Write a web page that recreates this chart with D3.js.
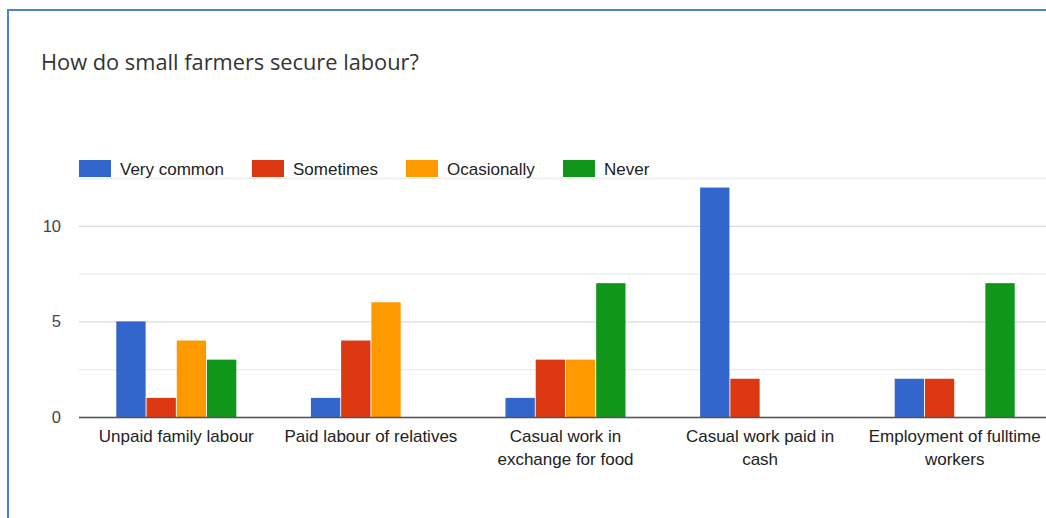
<!DOCTYPE html>
<html>
<head>
<meta charset="utf-8">
<script src="https://cdn.jsdelivr.net/npm/d3@7"></script>
<style>
  body { margin: 0; background: #fff; }
  svg { display: block; }
</style>
</head>
<body>
<div id="chart"></div>
<script>
// values
var categories = ["Unpaid family labour", "Paid labour of relatives", "Casual work in exchange for food", "Casual work paid in cash", "Employment of fulltime workers"];
var series = ["Very common", "Sometimes", "Ocasionally", "Never"];
var veryCommon  = [5, 1, 1, 12, 2];
var sometimes   = [1, 4, 3, 2, 2];
var ocasionally = [4, 6, 3, 0, 0];
var never       = [3, 0, 7, 0, 7];
var yTicks = [0, 5, 10];
var gridTicks = [0, 2.5, 5, 7.5, 10, 12.5];

// wrapped labels as in the picture
var labelLines = [
  ["Unpaid family labour"],
  ["Paid labour of relatives"],
  ["Casual work in", "exchange for food"],
  ["Casual work paid in", "cash"],
  ["Employment of fulltime", "workers"]
];

var colors = ["#3366cc", "#dc3912", "#ff9900", "#109618"];
var values = [veryCommon, sometimes, ocasionally, never];

var width = 1046, height = 518;
var svg = d3.select("#chart").append("svg")
    .attr("width", width)
    .attr("height", height);

// card border (cut off on right and bottom)
svg.append("rect")
    .attr("x", 8).attr("y", 10)
    .attr("width", 1100).attr("height", 600)
    .attr("fill", "#fff")
    .attr("stroke", "#4a7fdb")
    .attr("stroke-width", 2);

svg.append("text")
    .attr("x", 41).attr("y", 70)
    .attr("font-family", "'Open Sans', Roboto, sans-serif")
    .attr("font-size", 21.8)
    .attr("fill", "#333")
    .text("How do small farmers secure labour?");

var left = 79, plotW = 973;
var y = d3.scaleLinear().domain([0, 12.5]).range([417, 178]);
var x0 = d3.scaleBand().domain(categories).range([left, left + plotW]);
var x1 = d3.scaleBand().domain(series).range([0, 120]).paddingInner(0.03);

// gridlines
svg.append("g").selectAll("line")
  .data(gridTicks)
  .enter().append("line")
    .attr("x1", left).attr("x2", width)
    .attr("y1", function(d) { return y(d) + 0.5; })
    .attr("y2", function(d) { return y(d) + 0.5; })
    .attr("stroke", function(d) { return d % 5 === 0 ? "#dcdcdc" : "#ececec"; })
    .attr("stroke-width", 1.3);

// y tick labels
svg.append("g").selectAll("text")
  .data(yTicks)
  .enter().append("text")
    .attr("x", 61)
    .attr("y", function(d) { return y(d) + 6; })
    .attr("text-anchor", "end")
    .attr("font-family", "'Liberation Sans', Arial, sans-serif")
    .attr("font-size", 16.5)
    .attr("fill", "#444")
    .text(function(d) { return d; });

// bars
var groups = svg.append("g").selectAll("g")
  .data(categories)
  .enter().append("g")
    .attr("transform", function(d) {
      return "translate(" + (x0(d) + x0.bandwidth() / 2 - 60) + ",0)";
    });

groups.selectAll("rect")
  .data(function(d, i) {
    return series.map(function(s, j) { return { s: s, v: values[j][i], c: colors[j] }; });
  })
  .enter().append("rect")
    .filter(function(d) { return d.v > 0; })
    .attr("x", function(d) { return x1(d.s); })
    .attr("y", function(d) { return y(d.v); })
    .attr("width", x1.bandwidth())
    .attr("height", function(d) { return y(0) - y(d.v); })
    .attr("fill", function(d) { return d.c; });

// baseline
svg.append("line")
    .attr("x1", left).attr("x2", width)
    .attr("y1", 417.5).attr("y2", 417.5)
    .attr("stroke", "#555")
    .attr("stroke-width", 1.5);

// category labels
var lab = svg.append("g").selectAll("text")
  .data(categories)
  .enter().append("text")
    .attr("x", function(d) { return x0(d) + x0.bandwidth() / 2; })
    .attr("y", 442)
    .attr("text-anchor", "middle")
    .attr("font-family", "'Liberation Sans', Arial, sans-serif")
    .attr("font-size", 17)
    .attr("fill", "#222");

lab.each(function(d, i) {
  var t = d3.select(this);
  labelLines[i].forEach(function(line, k) {
    t.append("tspan")
      .attr("x", x0(d) + x0.bandwidth() / 2)
      .attr("dy", k === 0 ? 0 : 23)
      .text(line);
  });
});

// legend
var legendX = [79, 252, 406, 563];
var legend = svg.append("g").selectAll("g")
  .data(series)
  .enter().append("g")
    .attr("transform", function(d, i) { return "translate(" + legendX[i] + ",160)"; });

legend.append("rect")
    .attr("width", 32).attr("height", 17)
    .attr("fill", function(d, i) { return colors[i]; });

legend.append("text")
    .attr("x", 41).attr("y", 14.5)
    .attr("font-family", "'Liberation Sans', Arial, sans-serif")
    .attr("font-size", 17)
    .attr("fill", "#222")
    .text(function(d) { return d; });
</script>
</body>
</html>
